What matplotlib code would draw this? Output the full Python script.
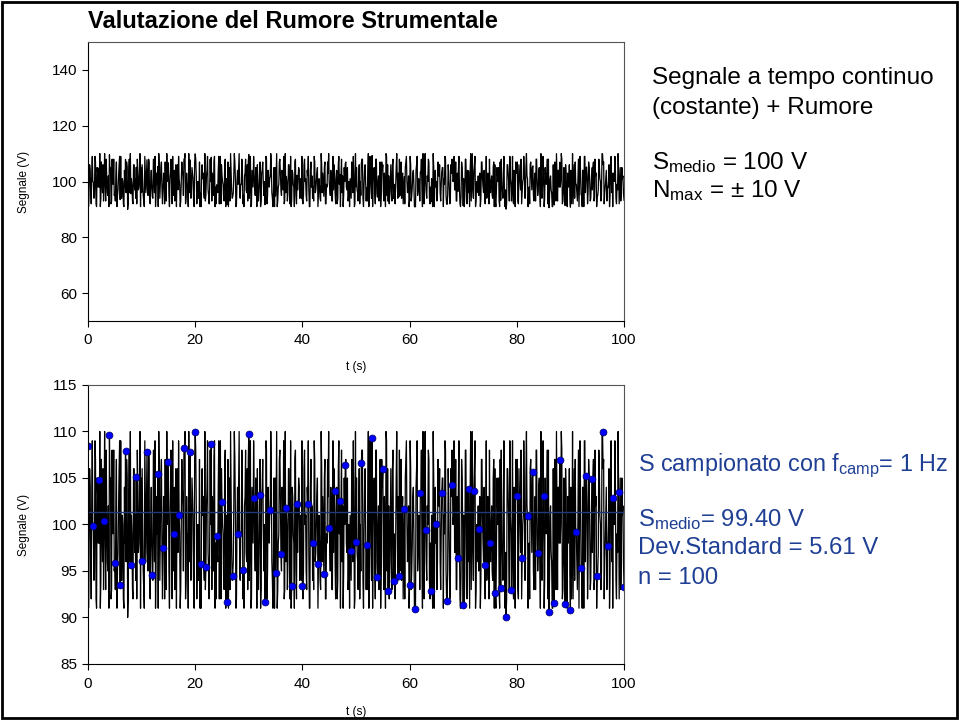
import numpy as np
import matplotlib
matplotlib.use("Agg")
import matplotlib.pyplot as plt
from matplotlib.patches import Rectangle

plt.rcParams['font.family'] = ['Liberation Sans', 'DejaVu Sans']
plt.rcParams['mathtext.fontset'] = 'custom'
plt.rcParams['mathtext.rm'] = 'Liberation Sans'
plt.rcParams['mathtext.it'] = 'Liberation Sans'

# sampled values at 1 Hz (blue dots), t = 0..100 s
t_samples = list(range(0, 101))
s_samples = [108.4, 99.8, 104.8, 100.4, 109.6, 95.9, 93.5, 107.9, 95.6, 105.1,
             96.1, 107.8, 94.6, 105.4, 97.5, 106.7, 99.0, 101.0, 108.2, 107.8,
             109.9, 95.8, 95.4, 108.7, 98.8, 102.4, 91.7, 94.5, 99.0, 95.1,
             109.7, 102.8, 103.2, 91.7, 101.6, 94.8, 96.8, 101.8, 93.4, 102.2,
             93.4, 102.2, 98.0, 95.8, 94.7, 99.6, 103.6, 102.5, 106.4, 97.2,
             98.1, 106.6, 97.8, 109.3, 94.4, 106.0, 92.9, 93.9, 94.5, 101.7,
             93.5, 90.9, 103.4, 99.4, 92.8, 100.0, 103.4, 91.8, 104.2, 96.4,
             91.3, 103.8, 103.6, 99.5, 95.6, 98.0, 92.6, 93.2, 90.1, 93.0,
             103.1, 96.4, 100.9, 105.6, 96.9, 103.1, 90.6, 91.6, 106.9, 91.4,
             90.8, 99.2, 95.3, 105.2, 104.9, 94.5, 109.9, 97.7, 102.8, 103.5,
             93.3]

# continuous signal between the samples: 4 values per second ...
noise_a = [
    91, 106, 97, 103, 94, 109, 92, 105, 98, 91, 107, 96, 110, 93, 101, 95, 104, 92, 108, 99,
    93, 107, 95, 102, 109, 94, 100, 91, 96, 105, 92, 108, 101, 93, 106, 97, 92, 104, 98, 110,
    106, 95, 91, 103, 97, 108, 93, 100, 94, 102, 109, 96, 91, 105, 99, 107, 103, 92, 97, 110,
    95, 101, 108, 92, 104, 96, 91, 106, 99, 93, 107, 102, 110, 94, 98, 91, 105, 97, 103, 93,
    108, 92, 100, 96, 91, 106, 103, 94, 102, 109, 95, 98, 93, 101, 107, 91, 97, 104, 92, 109,
    100, 94, 106, 91, 107, 98, 93, 104, 96, 110, 101, 92, 105, 95, 99, 108, 91, 103, 97, 106,
    94, 109, 92, 101, 98, 105, 91, 97, 107, 93, 104, 100, 92, 108, 95, 102, 110, 96, 91, 105,
    103, 91, 98, 107, 95, 102, 109, 93, 100, 96, 106, 92, 104, 99, 91, 108, 97, 105, 94, 101,
    92, 106, 100, 95, 109, 91, 104, 98, 93, 107, 97, 103, 101, 94, 110, 96, 105, 92, 99, 107,
    98, 104, 93, 109, 96, 101, 92, 106, 91, 108, 102, 95, 107, 97, 93, 100, 94, 103, 109, 91,
    105, 96, 101, 92, 108, 94, 99, 106, 93, 110, 97, 102, 91, 104, 96, 108, 100, 93, 107, 95,
    97, 103, 91, 109, 102, 95, 106, 93, 99, 92, 105, 101, 108, 96, 94, 103, 92, 107, 100, 97,
    109, 93, 98, 104, 91, 106, 95, 101, 103, 97, 110, 92, 96, 102, 108, 94, 101, 91, 105, 99,
    93, 107, 102, 96, 105, 91, 99, 108, 95, 103, 92, 106, 100, 109, 97, 93, 104, 98, 91, 107,
    101, 95, 108, 92, 97, 104, 93, 110, 106, 91, 100, 96, 103, 94, 107, 98, 92, 109, 96, 102,
    96, 102, 94, 107, 91, 105, 100, 93, 108, 97, 103, 95, 92, 106, 99, 109, 98, 93, 104, 91,
    107, 92, 103, 97, 100, 109, 94, 105, 91, 98, 106, 102, 95, 101, 93, 108, 104, 96, 110, 94,
    91, 105, 99, 108, 94, 102, 96, 91, 107, 93, 101, 104, 98, 110, 92, 97, 106, 95, 103, 100,
    104, 97, 92, 106, 99, 93, 108, 101, 95, 104, 91, 109, 102, 96, 105, 93, 97, 107, 94, 102,
    95, 108, 101, 93, 106, 92, 98, 104, 100, 91, 107, 96, 103, 109, 94, 99, 92, 105, 97, 101,
]

# ... and 5 more values per second
noise_b = [
    97, 104, 92, 109, 100, 95, 107, 91, 103, 98, 110, 94, 101, 106, 93, 99, 108, 96, 102, 91,
    105, 93, 100, 108, 95, 102, 91, 97, 106, 109, 94, 101, 92, 104, 98, 107, 90, 103, 96, 110,
    99, 92, 106, 101, 94, 108, 97, 103, 91, 105, 100, 93, 109, 96, 102, 95, 107, 92, 104, 98,
    108, 96, 91, 103, 99, 110, 94, 105, 97, 92, 101, 107, 93, 100, 106, 91, 104, 98, 109, 95,
    93, 106, 102, 97, 109, 91, 100, 104, 95, 108, 92, 103, 99, 110, 96, 94, 105, 101, 91, 107,
    102, 98, 94, 107, 91, 105, 101, 96, 110, 93, 104, 97, 92, 108, 100, 103, 95, 109, 98, 92,
    96, 109, 103, 92, 106, 99, 93, 108, 101, 95, 91, 105, 110, 97, 94, 102, 107, 91, 100, 104,
    110, 94, 99, 105, 92, 102, 108, 96, 93, 107, 100, 91, 104, 98, 109, 95, 101, 106, 93, 97,
    91, 103, 107, 95, 100, 109, 92, 104, 98, 101, 106, 94, 97, 91, 105, 110, 93, 99, 108, 102,
    104, 97, 92, 110, 96, 93, 106, 100, 109, 91, 103, 98, 107, 95, 92, 101, 104, 96, 94, 109,
    95, 108, 101, 93, 104, 97, 91, 107, 102, 94, 109, 96, 100, 105, 91, 98, 93, 106, 103, 99,
    107, 92, 98, 103, 110, 95, 101, 93, 97, 106, 92, 104, 94, 109, 99, 102, 96, 91, 105, 100,
    98, 105, 94, 91, 101, 107, 96, 103, 92, 110, 97, 93, 106, 100, 95, 108, 91, 104, 99, 93,
    103, 91, 109, 97, 94, 100, 105, 92, 108, 96, 102, 99, 91, 107, 104, 93, 98, 110, 95, 106,
    92, 100, 96, 106, 108, 93, 99, 110, 94, 103, 95, 107, 101, 92, 97, 105, 109, 96, 102, 91,
    106, 95, 103, 99, 91, 104, 109, 97, 100, 93, 108, 91, 96, 103, 110, 94, 100, 107, 92, 98,
    94, 110, 91, 104, 98, 96, 102, 106, 93, 99, 105, 101, 109, 95, 92, 106, 97, 93, 103, 108,
    101, 97, 107, 93, 103, 109, 92, 95, 105, 100, 91, 108, 98, 104, 96, 91, 110, 102, 97, 94,
    109, 93, 98, 102, 95, 91, 107, 101, 96, 104, 99, 94, 103, 92, 108, 100, 95, 105, 91, 106,
    97, 102, 105, 91, 107, 98, 94, 109, 91, 97, 106, 103, 93, 101, 99, 109, 92, 96, 107, 103,
    93, 106, 100, 108, 92, 101, 104, 94, 110, 102, 96, 92, 107, 97, 105, 93, 103, 108, 99, 95,
    105, 91, 96, 99, 109, 94, 100, 103, 92, 108, 101, 97, 91, 106, 94, 102, 110, 93, 104, 98,
    100, 108, 93, 105, 96, 103, 91, 98, 106, 95, 92, 110, 99, 94, 107, 96, 101, 91, 109, 103,
    91, 104, 109, 96, 102, 92, 107, 100, 94, 99, 105, 93, 108, 103, 91, 97, 106, 100, 95, 110,
    107, 96, 101, 93, 98, 106, 95, 109, 103, 91, 100, 104, 92, 97, 110, 99, 93, 105, 102, 96,
]

s_mean_line = 101.3

x_ticks = [0, 20, 40, 60, 80, 100]
top_yticks = [60, 80, 100, 120, 140]
bot_yticks = [85, 90, 95, 100, 105, 110, 115]

# merge samples and in-between points -> 10 points per second
trace = []
for i in range(100):
    a = noise_a[4 * i:4 * i + 4]
    b = noise_b[5 * i:5 * i + 5]
    trace += [s_samples[i], a[0], b[0], a[1], b[1], a[2], b[2], a[3], b[3], b[4]]
trace.append(s_samples[100])
t_trace = np.linspace(0, 100, len(trace))

W, H = 959, 722
fig = plt.figure(figsize=(W / 100, H / 100), dpi=100)

ax1 = fig.add_axes([88 / W, 1 - 321 / H, 536 / W, 279 / H])
ax2 = fig.add_axes([88 / W, 1 - 664 / H, 536 / W, 279 / H])

ax1.plot(t_trace, trace, color='black', lw=0.9)
ax1.set_xlim(0, 100)
ax1.set_ylim(50, 150)
ax1.set_yticks(top_yticks)

ax2.plot(t_trace, trace, color='black', lw=0.9)
ax2.plot([0, 100], [s_mean_line, s_mean_line], color='#1f3a7a', lw=1.0)
ax2.plot(t_samples, s_samples, 'o', color='#0000ff', markersize=5,
         markeredgecolor='#00005a', markeredgewidth=0.5)
ax2.set_xlim(0, 100)
ax2.set_ylim(85, 115)
ax2.set_yticks(bot_yticks)

for ax in (ax1, ax2):
    ax.set_xticks(x_ticks)
    ax.tick_params(direction='out', length=4, width=0.8, labelsize=11)
    ax.tick_params(axis='x', pad=5)
    ax.tick_params(axis='y', pad=4)
    for sp in ax.spines.values():
        sp.set_linewidth(0.8)
        sp.set_color('#555555')
    ax.spines['left'].set_color('black')
    ax.spines['bottom'].set_color('black')
    ax.set_ylabel('Segnale (V)', fontsize=8.5)
    ax.set_xlabel('t (s)', fontsize=8.5)
    ax.yaxis.set_label_coords(-0.108, 0.5)

ax1.xaxis.set_label_coords(0.5, -0.143)
ax2.xaxis.set_label_coords(0.5, -0.15)

fig.text(88 / W, 1 - 22 / H, 'Valutazione del Rumore Strumentale',
         fontsize=17, fontweight='bold', va='center', ha='left')

fs_top = 17.5
fig.text(652 / W, 1 - 78 / H, 'Segnale a tempo continuo', fontsize=fs_top, va='center')
fig.text(652 / W, 1 - 108 / H, '(costante) + Rumore', fontsize=fs_top, va='center')
fig.text(652 / W, 1 - 163 / H, r'S$_{\mathrm{medio}}$ = 100 V', fontsize=fs_top, va='center')
fig.text(652 / W, 1 - 191 / H, r'N$_{\mathrm{max}}$ = ± 10 V', fontsize=fs_top, va='center')

blue = '#1f3f94'
fs_bot = 17.2
fig.text(638 / W, 1 - 466 / H, r'S campionato con f$_{\mathrm{camp}}$= 1 Hz',
         fontsize=16.8, va='center', color=blue)
fig.text(638 / W, 1 - 520 / H, r'S$_{\mathrm{medio}}$= 99.40 V', fontsize=fs_bot, va='center', color=blue)
fig.text(638 / W, 1 - 548 / H, 'Dev.Standard = 5.61 V', fontsize=fs_bot, va='center', color=blue)
fig.text(638 / W, 1 - 578 / H, 'n = 100', fontsize=fs_bot, va='center', color=blue)

fig.patches.append(Rectangle((2 / W, 4 / H), 955 / W, 716 / H, transform=fig.transFigure,
                             fill=False, edgecolor='black', linewidth=2))

fig.savefig('out.png', dpi=100)
